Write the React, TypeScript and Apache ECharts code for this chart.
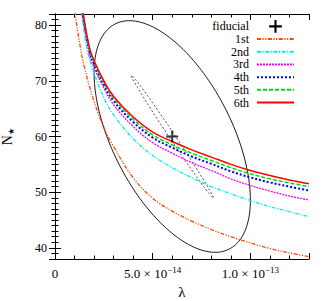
import React, { useEffect, useRef } from "react";
import * as echarts from "echarts";

const FONT = "'Liberation Serif', 'DejaVu Serif', serif";

const L_SCALE = 1e-14;
const LAMBDA_1ST = [1.0, 1.28, 1.5, 2, 2.5, 3, 4, 5, 6, 7, 8, 9, 10, 11, 12, 13];
const N_1ST = [82.5, 76.4, 72.5, 66.3, 61.6, 58.2, 52.6, 48.9, 46.6, 44.8, 43.3, 42.0, 40.9, 39.9, 39.1, 38.4];

const LAMBDA_2ND = [1.36, 1.62, 2, 2.5, 3, 4, 5, 6, 7, 8, 9, 10, 11, 12, 13];
const N_2ND = [82.3, 76.0, 71.4, 67.0, 63.9, 59.6, 56.6, 54.4, 52.6, 51.0, 49.7, 48.5, 47.4, 46.5, 45.6];

const LAMBDA_3RD = [1.39, 1.76, 2, 2.5, 3, 4, 5, 6, 7, 8, 9, 10, 11, 12, 13];
const N_3RD = [82.4, 74.8, 72.4, 68.7, 65.7, 61.8, 58.9, 57.0, 55.3, 53.9, 52.4, 51.2, 50.2, 49.3, 48.6];

const LAMBDA_4TH = [1.4, 1.76, 2, 2.5, 3, 4, 5, 6, 7, 8, 9, 10, 11, 12, 13];
const N_4TH = [82.4, 75.4, 73.0, 69.3, 66.4, 62.6, 59.8, 58.0, 56.4, 55.1, 53.75, 52.65, 51.75, 51.0, 50.3];

const LAMBDA_5TH = [1.41, 1.76, 2, 2.5, 3, 4, 5, 6, 7, 8, 9, 10, 11, 12, 13];
const N_5TH = [82.5, 75.7, 73.3, 69.7, 66.85, 63.1, 60.3, 58.5, 57.0, 55.7, 54.4, 53.3, 52.4, 51.65, 51.0];

const LAMBDA_6TH = [1.42, 1.76, 2, 2.5, 3, 4, 5, 6, 7, 8, 9, 10, 11, 12, 13];
const N_6TH = [82.6, 76.0, 73.6, 70.0, 67.2, 63.5, 60.8, 59.1, 57.6, 56.3, 55.0, 53.9, 53.0, 52.2, 51.5];

// fiducial point and the two error ellipses (λ in units of 1e-14)
const FIDUCIAL = [6.0, 60.0];
const ELLIPSE_OUTER = { sigmaL: 4.0, sigmaN: 20.8, rho: -0.548 };
const ELLIPSE_INNER = { sigmaL: 2.1, sigmaN: 11.0, rho: -0.9965 };

const LEGEND_NAMES = ["fiducial", "1st", "2nd", "3rd", "4th", "5th", "6th"];
const X_TICK_MIN = 0;
const X_TICK_MAX = 1.3e-13;
const X_TICK_STEP = 5e-14;
const Y_MIN = 38;
const Y_MAX = 82;

const pairs = (ls: number[], ns: number[]) => ls.map((l, i) => [l * L_SCALE, ns[i]]);

const ellipsePoints = (e: { sigmaL: number; sigmaN: number; rho: number }) => {
  const pts: number[][] = [];
  const k = Math.sqrt(1 - e.rho * e.rho);
  for (let i = 0; i <= 180; i++) {
    const t = (i / 180) * Math.PI * 2;
    const c = Math.cos(t);
    const s = Math.sin(t);
    pts.push([(FIDUCIAL[0] + e.sigmaL * c) * L_SCALE, FIDUCIAL[1] + e.sigmaN * (e.rho * c + k * s)]);
  }
  return pts;
};

const xLabel = (v: number) => {
  if (Math.abs(v) < 1e-20) return "{a|0}";
  const exp = Math.floor(Math.log10(v) + 1e-9);
  const m = v / Math.pow(10, exp);
  return `{a|${m.toFixed(1)} × 10}{s|−${Math.abs(exp)}}`;
};

export default function App() {
  const ref = useRef<HTMLDivElement>(null);
  useEffect(() => {
    if (!ref.current) return;
    const chart = echarts.init(ref.current, null, { renderer: "svg" });
    const axisLine = { show: true, lineStyle: { color: "#000", width: 1 } };
    const xCommon = {
      type: "value" as const,
      min: X_TICK_MIN,
      max: X_TICK_MAX,
      interval: X_TICK_STEP,
      axisLine,
      axisTick: { show: true, inside: true, length: 6, lineStyle: { color: "#000", width: 1 } },
      minorTick: { show: true, splitNumber: 5, length: 3.5, lineStyle: { color: "#000", width: 1 } },
      splitLine: { show: false },
    };
    const yCommon = {
      type: "value" as const,
      min: Y_MIN,
      max: Y_MAX,
      axisLine,
      axisTick: { show: true, inside: true, length: 6, lineStyle: { color: "#000", width: 1 } },
      minorTick: { show: true, splitNumber: 10, length: 3.5, lineStyle: { color: "#000", width: 1 } },
      splitLine: { show: false },
    };
    const curve = (name: string, data: number[][], color: string, width: number, type: any) => ({
      name,
      type: "line",
      data,
      showSymbol: false,
      symbol: "circle",
      smooth: 0.4,
      lineStyle: { color, width, type },
      itemStyle: { color },
      z: 3,
    });
    chart.setOption({
      animation: false,
      backgroundColor: "#fff",
      grid: { left: 55, right: 23, top: 14, bottom: 42, containLabel: false, outerBoundsMode: "none" },
      xAxis: [
        {
          ...xCommon,
          position: "bottom",
          name: "λ",
          nameLocation: "middle",
          nameGap: 25,
          nameTextStyle: { fontFamily: FONT, fontSize: 15, color: "#000" },
          axisLabel: {
            margin: 6,
            showMaxLabel: false,
            formatter: xLabel,
            rich: {
              a: { fontFamily: FONT, fontSize: 13, color: "#000", lineHeight: 17 },
              s: { fontFamily: FONT, fontSize: 9, color: "#000", lineHeight: 10, verticalAlign: "top" },
            },
          },
        },
        { ...xCommon, position: "top", axisLabel: { show: false } },
      ],
      yAxis: [
        {
          ...yCommon,
          position: "left",
          name: "{n|N}{s|★}",
          nameLocation: "middle",
          nameGap: 40,
          nameRotate: 90,
          nameTextStyle: {
            rich: {
              n: { fontFamily: FONT, fontSize: 14, color: "#000", lineHeight: 15 },
              s: { fontFamily: "'DejaVu Sans', sans-serif", fontSize: 8, color: "#000", lineHeight: 7, verticalAlign: "bottom" },
            },
          },
          axisLabel: {
            margin: 8,
            showMinLabel: false,
            showMaxLabel: false,
            fontFamily: FONT,
            fontSize: 12,
            color: "#000",
          },
        },
        { ...yCommon, position: "right", axisLabel: { show: false } },
      ],
      legend: {
        orient: "vertical",
        align: "right",
        right: 37,
        top: 20,
        padding: 0,
        itemWidth: 37,
        itemHeight: 12.7,
        itemGap: 0,
        selectedMode: false,
        textStyle: { fontFamily: FONT, fontSize: 12, color: "#000", lineHeight: 12.7, padding: [0, 3, 0, 0] },
        itemStyle: { opacity: 0 },
        data: [
          { name: LEGEND_NAMES[0], itemStyle: { opacity: 1 } },
          ...LEGEND_NAMES.slice(1).map((n) => ({ name: n })),
        ],
      },
      series: [
        {
          name: "outer",
          type: "line",
          data: ellipsePoints(ELLIPSE_OUTER),
          showSymbol: false,
          symbol: "none",
          lineStyle: { color: "#000", width: 0.9 },
          z: 2,
        },
        {
          name: "inner",
          type: "line",
          data: ellipsePoints(ELLIPSE_INNER),
          showSymbol: false,
          symbol: "none",
          lineStyle: { color: "#222", width: 0.8, type: [2, 2] },
          z: 2,
        },
        curve("1st", pairs(LAMBDA_1ST, N_1ST), "#ff4500", 1.3, [4, 1.5, 1.2, 1.5, 1.2, 1.5]),
        curve("2nd", pairs(LAMBDA_2ND, N_2ND), "#00f0f0", 1.3, [4, 1.5, 1.2, 1.5]),
        curve("3rd", pairs(LAMBDA_3RD, N_3RD), "#ff00ff", 1.3, [2, 1]),
        curve("4th", pairs(LAMBDA_4TH, N_4TH), "#0000ff", 2, [2, 2]),
        curve("5th", pairs(LAMBDA_5TH, N_5TH), "#00e000", 1.5, [4, 2]),
        curve("6th", pairs(LAMBDA_6TH, N_6TH), "#ff0000", 1.5, "solid"),
        {
          name: "fiducial",
          type: "scatter",
          data: [[FIDUCIAL[0] * L_SCALE, FIDUCIAL[1]]],
          symbol: "path://M5,0H7V5H12V7H7V12H5V7H0V5H5Z",
          symbolSize: 12,
          symbolKeepAspect: true,
          itemStyle: { color: "#000" },
          z: 5,
        },
      ],
    });
    return () => chart.dispose();
  }, []);
  return (
    <div
      ref={ref}
      style={{ position: "fixed", left: 0, top: 0, width: 332, height: 301, background: "#fff" }}
    />
  );
}
